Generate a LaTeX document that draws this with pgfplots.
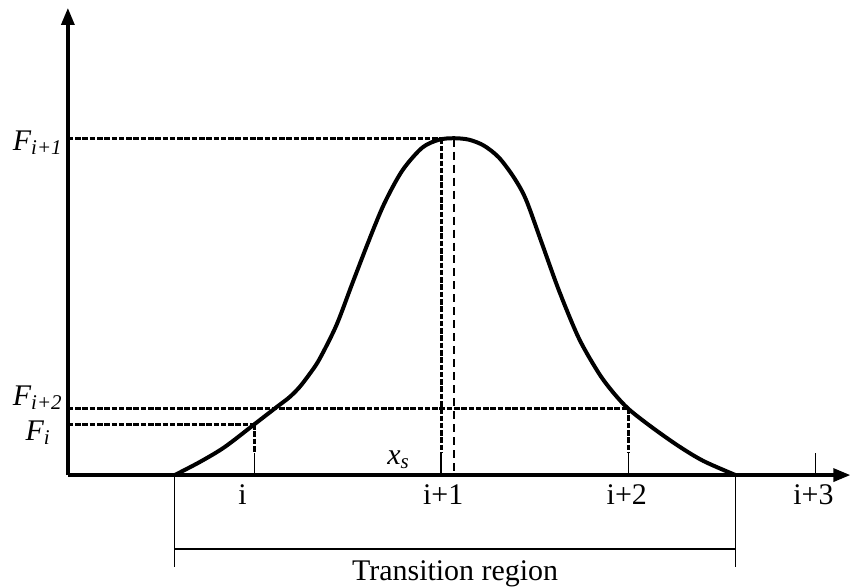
\documentclass[border=0pt]{standalone}
\usepackage{fontspec}
\setmainfont{Liberation Serif}
\usepackage{pgfplots}
\pgfplotsset{compat=1.18}
\usetikzlibrary{arrows.meta}

% flux profile across the transition region
\pgfplotstableread{
x   y
175 0
200 13
225 28
255 51
277 68
290 78
300 88
310 101
320 116
337 150
353 192
370 236
385 272
403 305
423 328
440 336
455 337.5
470 336
485 330
500 318
515 298
527 276
543 232
560 185
580 137
600 102
615 82
630 66
653 48
680 29
705 14
737 0
}\profile

\newcommand{\lab}{\fontsize{30bp}{36bp}\selectfont}
\newcommand{\sub}[1]{\raisebox{-4bp}{\fontsize{21bp}{24bp}\selectfont #1}}

\begin{document}
\begin{tikzpicture}
\begin{axis}[
  x=1bp, y=1bp,
  xmin=0, xmax=852, ymin=-113, ymax=476,
  hide axis, clip=false,
  guide/.style={line width=3.2bp, dash pattern=on 5.5bp off 1.8bp},
  thin/.style={line width=1.4bp},
  thindash/.style={line width=1.6bp, dash pattern=on 8bp off 5bp},
]
% drawing area
\addplot[draw=none] coordinates {(0,-113) (852,476)};

% axes
\addplot[line width=3.3bp, -{Triangle[length=17bp,width=13bp]}] coordinates {(68,0) (852,0)};
\addplot[line width=3.3bp, -{Triangle[length=17bp,width=13bp]}] coordinates {(68,0) (68,468)};

% tick marks
\addplot[thin] coordinates {(255,0) (255,22)};
\addplot[thin] coordinates {(442,0) (442,22)};
\addplot[thin] coordinates {(630,0) (630,22)};
\addplot[thin] coordinates {(817,0) (817,22)};

% guide lines to the flux levels
\addplot[guide] coordinates {(68,337) (442,337)};
\addplot[guide] coordinates {(442,337) (442,22)};
\addplot[guide] coordinates {(68,67) (630,67)};
\addplot[guide] coordinates {(630,67) (630,22)};
\addplot[guide] coordinates {(68,51) (255,51)};
\addplot[guide] coordinates {(255,51) (255,22)};
\addplot[thindash] coordinates {(455,337) (455,0)};

% profile
\addplot[line width=4bp, smooth, tension=0.5] table[x=x, y=y] {\profile};

% transition region bracket
\addplot[thin] coordinates {(175,0) (175,-92)};
\addplot[thin] coordinates {(737,0) (737,-92)};
\addplot[thin] coordinates {(175,-74) (737,-74)};

% labels
\node[anchor=base east, inner sep=0] at (axis cs:62,325) {\lab\itshape F\sub{i+1}};
\node[anchor=base east, inner sep=0] at (axis cs:62,70) {\lab\itshape F\sub{i+2}};
\node[anchor=base east, inner sep=0] at (axis cs:50,35) {\lab\itshape F\sub{i}};
\node[anchor=base west, inner sep=0] at (axis cs:388,11) {\lab\itshape x\sub{s}};

\node[anchor=base, inner sep=0] at (axis cs:243,-29) {\lab i};
\node[anchor=base, inner sep=0] at (axis cs:444,-29) {\lab i+1};
\node[anchor=base, inner sep=0] at (axis cs:628,-29) {\lab i+2};
\node[anchor=base, inner sep=0] at (axis cs:815,-29) {\lab i+3};
\node[anchor=base, inner sep=0] at (axis cs:456,-106) {\lab Transition region};
\end{axis}
\end{tikzpicture}
\end{document}
